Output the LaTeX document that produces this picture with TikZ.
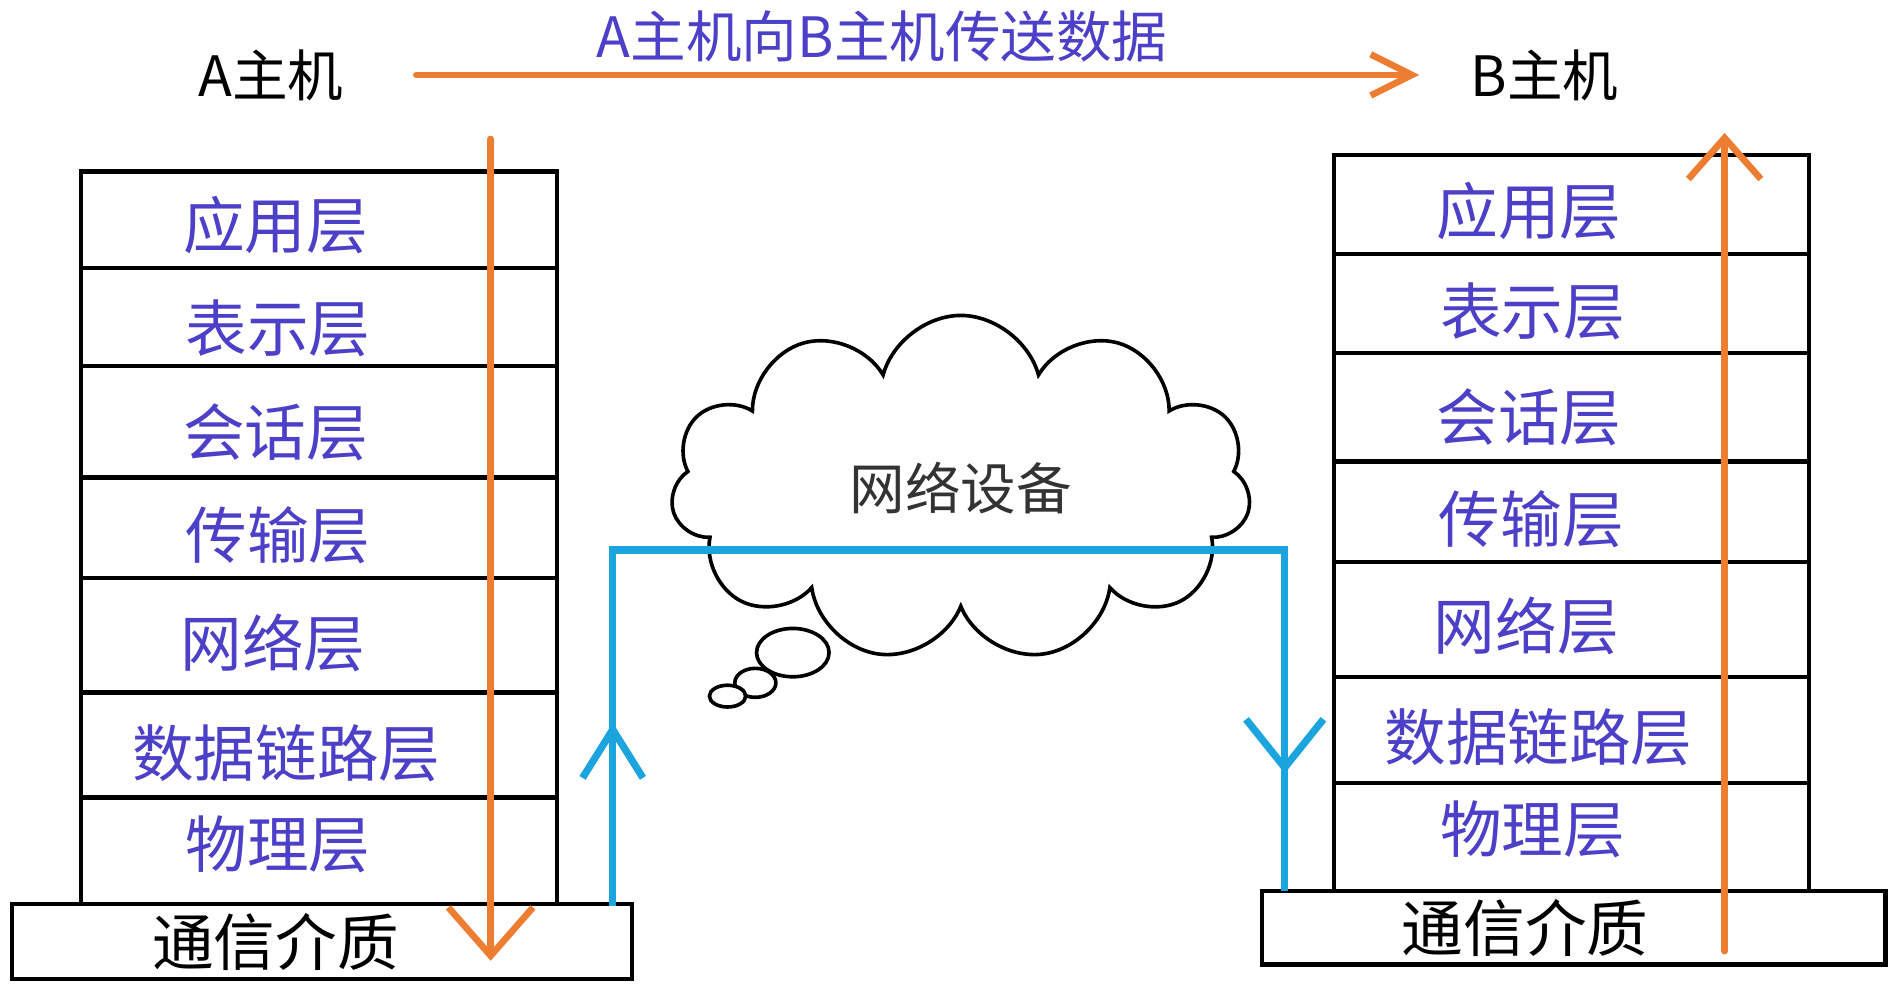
\documentclass[tikz,border=0pt]{standalone}
\usepackage{fontspec}
\newfontfamily\cjk{Noto Sans CJK SC}
\usetikzlibrary{shapes.symbols, arrows.meta, positioning}
\definecolor{layerblue}{RGB}{76,64,200}
\definecolor{flow}{RGB}{237,125,49}
\definecolor{wire}{RGB}{28,164,222}

\begin{document}
\begin{tikzpicture}[x=1pt, y=-1pt, every node/.style={font=\cjk\fontsize{46}{52}\selectfont},
    layer/.style={text=layerblue, font=\cjk\fontsize{51}{56}\selectfont},
    frame/.style={draw=black, line width=3.6pt},
    flowline/.style={flow, line width=5.5pt, line cap=round},
    wireline/.style={wire, line width=6pt}]
    \useasboundingbox (0,0) rectangle (1568,818);
    % hosts and the sending arrow
    \node (hosta) at (224,62) {A主机};
    \node (hostb) at (1278,62) {B主机};
    \node[text=layerblue] (title) at (730,30) {A主机向B主机传送数据};
    \draw[flowline, -{Straight Barb[length=34pt, width=34pt]}, shorten <=57pt, shorten >=39pt] (hosta.east) -- (hostb.west);
    % stack of host A
    \foreach \t/\b in {142/222, 222/303, 303/395, 395/478, 478/573, 573/660, 660/748}
        \draw[frame] (67,\t) rectangle (461,\b);
    \node[layer] (a7) at (228,186) {应用层};
    \node[layer] (a6) at (230,272) {表示层};
    \node[layer] (a5) at (228,358) {会话层};
    \node[layer] (a4) at (230,443) {传输层};
    \node[layer] (a3) at (226,532) {网络层};
    \node[layer] (a2) at (237,623) {数据链路层};
    \node[layer] (a1) at (230,699) {物理层};
    \draw[frame] (10,748) rectangle (523,810);
    \node[font=\cjk\fontsize{51}{56}\selectfont] (meda) at (228,779) {通信介质};
    % stack of host B
    \foreach \t/\b in {128/210, 210/292, 292/382, 382/465, 465/560, 560/648, 648/737}
        \draw[frame] (1104,\t) rectangle (1497,\b);
    \node[layer] (b7) at (1265,175) {应用层};
    \node[layer] (b6) at (1268,258) {表示层};
    \node[layer] (b5) at (1265,345) {会话层};
    \node[layer] (b4) at (1267,430) {传输层};
    \node[layer] (b3) at (1263,518) {网络层};
    \node[layer] (b2) at (1273,610) {数据链路层};
    \node[layer] (b1) at (1268,686) {物理层};
    \draw[frame] (1044,737) rectangle (1560,798);
    \node[font=\cjk\fontsize{51}{56}\selectfont] (medb) at (1262,768) {通信介质};
    % down through A, up through B
    \coordinate (downtop) at (406,115);
    \coordinate (downend) at (406,795);
    \coordinate (upstart) at (1427,787);
    \coordinate (upend) at (1427,110);
    \draw[flowline, -{Straight Barb[length=40pt, width=70pt]}] (downtop) -- (downend);
    \draw[flowline, -{Straight Barb[length=34pt, width=60pt]}] (upstart) -- (upend);
    % network cloud
    \node[cloud, draw, line width=3pt, cloud puffs=11, aspect=1.7, minimum width=480pt, minimum height=286pt,
        text=black!80] (net) at (795,404) {网络设备};
    \draw[line width=3pt, fill=white] (656,540) ellipse [x radius=30, y radius=20];
    \draw[line width=3pt, fill=white] (625,565) ellipse [x radius=17, y radius=12];
    \draw[line width=3pt, fill=white] (602,576) ellipse [x radius=15, y radius=9];
    % the wire between the two media
    \coordinate (wa) at (507,750);
    \coordinate (wb) at (507,455);
    \coordinate (wc) at (1063,455);
    \coordinate (wd) at (1063,737);
    \coordinate (wup) at (507,598);
    \coordinate (wdown) at (1063,640);
    \draw[wireline] (wa) -- (wb) -- (wc) -- (wd);
    \draw[wireline, -{Straight Barb[length=40pt, width=50pt]}] (wa) -- (wup);
    \draw[wireline, -{Straight Barb[length=40pt, width=64pt]}] (wc) -- (wdown);
\end{tikzpicture}
\end{document}
